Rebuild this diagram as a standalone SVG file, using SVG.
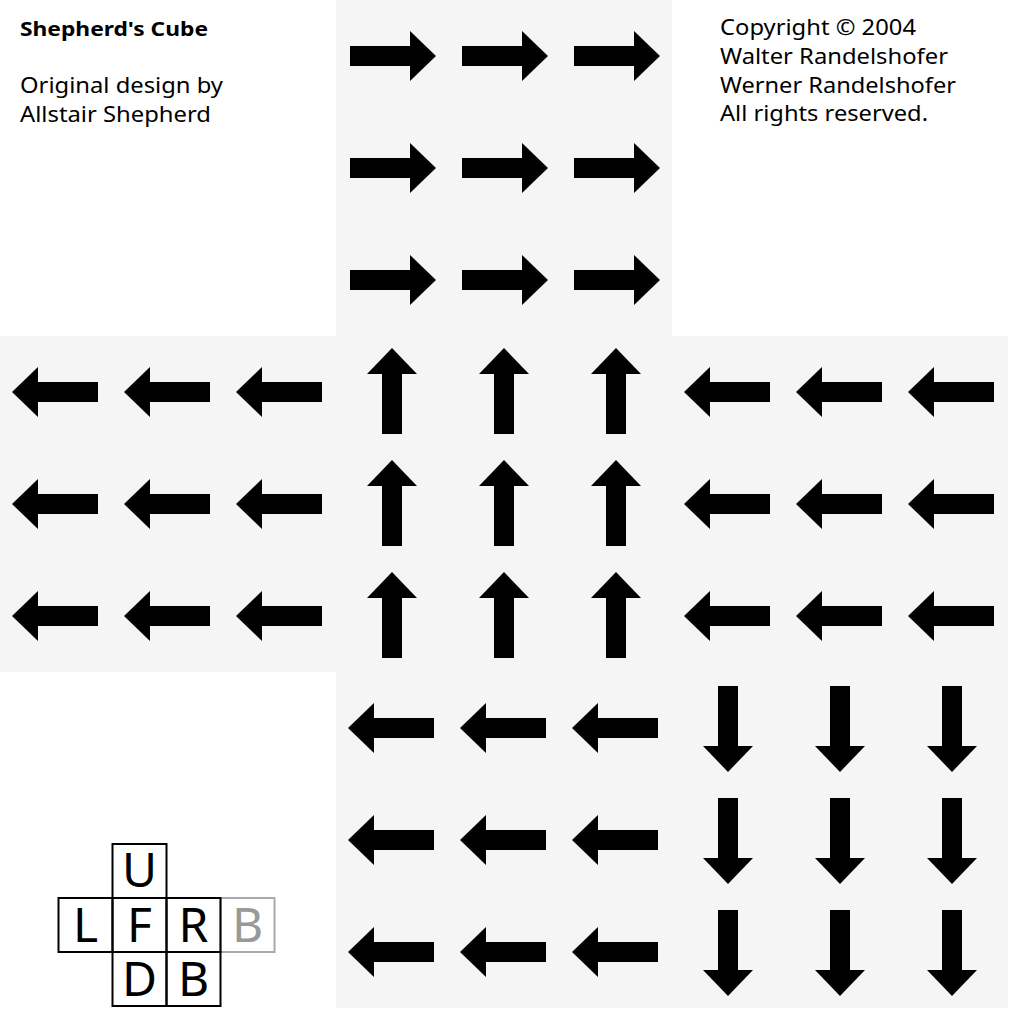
<svg xmlns="http://www.w3.org/2000/svg" xmlns:xlink="http://www.w3.org/1999/xlink" width="1024" height="1024" viewBox="0 0 1024 1024">
<style>
.face{fill:#f5f5f5}
.t{font-family:"Noto Sans","Open Sans","Liberation Sans",sans-serif;font-size:22px;fill:#000}
.tb{font-family:"Noto Sans","Open Sans","Liberation Sans",sans-serif;font-size:20px;font-weight:bold;fill:#000}
.box{fill:none;stroke:#000;stroke-width:2}
.boxg{fill:none;stroke:#aaa;stroke-width:2}
.lt{font-family:"Noto Sans","Open Sans","Liberation Sans",sans-serif;font-size:48px;text-anchor:middle;fill:#000}
</style>
<defs>
<path id="ar" d="M-42,-10 H18 V-25 L44,0 L18,25 V10 H-42 Z" fill="#000"/>
</defs>
<rect width="1024" height="1024" fill="#fff"/>
<g id="faceU">
<rect class="face" x="336" y="0" width="336" height="336"/>
<use xlink:href="#ar" transform="translate(392,56)"/><use xlink:href="#ar" transform="translate(504,56)"/><use xlink:href="#ar" transform="translate(616,56)"/>
<use xlink:href="#ar" transform="translate(392,168)"/><use xlink:href="#ar" transform="translate(504,168)"/><use xlink:href="#ar" transform="translate(616,168)"/>
<use xlink:href="#ar" transform="translate(392,280)"/><use xlink:href="#ar" transform="translate(504,280)"/><use xlink:href="#ar" transform="translate(616,280)"/>
</g>
<g id="faceL">
<rect class="face" x="0" y="336" width="336" height="336"/>
<use xlink:href="#ar" transform="translate(56,392) rotate(180)"/><use xlink:href="#ar" transform="translate(168,392) rotate(180)"/><use xlink:href="#ar" transform="translate(280,392) rotate(180)"/>
<use xlink:href="#ar" transform="translate(56,504) rotate(180)"/><use xlink:href="#ar" transform="translate(168,504) rotate(180)"/><use xlink:href="#ar" transform="translate(280,504) rotate(180)"/>
<use xlink:href="#ar" transform="translate(56,616) rotate(180)"/><use xlink:href="#ar" transform="translate(168,616) rotate(180)"/><use xlink:href="#ar" transform="translate(280,616) rotate(180)"/>
</g>
<g id="faceF">
<rect class="face" x="336" y="336" width="336" height="336"/>
<use xlink:href="#ar" transform="translate(392,392) rotate(-90)"/><use xlink:href="#ar" transform="translate(504,392) rotate(-90)"/><use xlink:href="#ar" transform="translate(616,392) rotate(-90)"/>
<use xlink:href="#ar" transform="translate(392,504) rotate(-90)"/><use xlink:href="#ar" transform="translate(504,504) rotate(-90)"/><use xlink:href="#ar" transform="translate(616,504) rotate(-90)"/>
<use xlink:href="#ar" transform="translate(392,616) rotate(-90)"/><use xlink:href="#ar" transform="translate(504,616) rotate(-90)"/><use xlink:href="#ar" transform="translate(616,616) rotate(-90)"/>
</g>
<g id="faceR">
<rect class="face" x="672" y="336" width="336" height="336"/>
<use xlink:href="#ar" transform="translate(728,392) rotate(180)"/><use xlink:href="#ar" transform="translate(840,392) rotate(180)"/><use xlink:href="#ar" transform="translate(952,392) rotate(180)"/>
<use xlink:href="#ar" transform="translate(728,504) rotate(180)"/><use xlink:href="#ar" transform="translate(840,504) rotate(180)"/><use xlink:href="#ar" transform="translate(952,504) rotate(180)"/>
<use xlink:href="#ar" transform="translate(728,616) rotate(180)"/><use xlink:href="#ar" transform="translate(840,616) rotate(180)"/><use xlink:href="#ar" transform="translate(952,616) rotate(180)"/>
</g>
<g id="faceD">
<rect class="face" x="336" y="672" width="336" height="336"/>
<use xlink:href="#ar" transform="translate(392,728) rotate(180)"/><use xlink:href="#ar" transform="translate(504,728) rotate(180)"/><use xlink:href="#ar" transform="translate(616,728) rotate(180)"/>
<use xlink:href="#ar" transform="translate(392,840) rotate(180)"/><use xlink:href="#ar" transform="translate(504,840) rotate(180)"/><use xlink:href="#ar" transform="translate(616,840) rotate(180)"/>
<use xlink:href="#ar" transform="translate(392,952) rotate(180)"/><use xlink:href="#ar" transform="translate(504,952) rotate(180)"/><use xlink:href="#ar" transform="translate(616,952) rotate(180)"/>
</g>
<g id="faceB">
<rect class="face" x="672" y="672" width="336" height="336"/>
<use xlink:href="#ar" transform="translate(728,728) rotate(90)"/><use xlink:href="#ar" transform="translate(840,728) rotate(90)"/><use xlink:href="#ar" transform="translate(952,728) rotate(90)"/>
<use xlink:href="#ar" transform="translate(728,840) rotate(90)"/><use xlink:href="#ar" transform="translate(840,840) rotate(90)"/><use xlink:href="#ar" transform="translate(952,840) rotate(90)"/>
<use xlink:href="#ar" transform="translate(728,952) rotate(90)"/><use xlink:href="#ar" transform="translate(840,952) rotate(90)"/><use xlink:href="#ar" transform="translate(952,952) rotate(90)"/>
</g>
<g id="title">
<text class="tb" x="20" y="36" textLength="188" lengthAdjust="spacingAndGlyphs">Shepherd's Cube</text>
<text class="t" x="20" y="93" textLength="203" lengthAdjust="spacingAndGlyphs">Original design by</text>
<text class="t" x="20" y="122" textLength="191" lengthAdjust="spacingAndGlyphs">Allstair Shepherd</text>
</g>
<g id="copyright">
<text class="t" x="720" y="35" textLength="196" lengthAdjust="spacingAndGlyphs">Copyright © 2004</text>
<text class="t" x="720" y="64" textLength="228" lengthAdjust="spacingAndGlyphs">Walter Randelshofer</text>
<text class="t" x="720" y="92.5" textLength="236" lengthAdjust="spacingAndGlyphs">Werner Randelshofer</text>
<text class="t" x="720" y="121" textLength="208" lengthAdjust="spacingAndGlyphs">All rights reserved.</text>
</g>
<g id="legend">
<rect class="boxg" x="220.5" y="898" width="54" height="54"/>
<rect class="box" x="112.5" y="844" width="54" height="54"/>
<rect class="box" x="58.5" y="898" width="54" height="54"/>
<rect class="box" x="112.5" y="898" width="54" height="54"/>
<rect class="box" x="166.5" y="898" width="54" height="54"/>
<rect class="box" x="112.5" y="952" width="54" height="54"/>
<rect class="box" x="166.5" y="952" width="54" height="54"/>
<text class="lt" x="139.5" y="887">U</text>
<text class="lt" x="85.5" y="941.5">L</text>
<text class="lt" x="139.5" y="941.5">F</text>
<text class="lt" x="193.5" y="941.5">R</text>
<text class="lt" x="247.5" y="941.5" style="fill:#999">B</text>
<text class="lt" x="139.5" y="995.5">D</text>
<text class="lt" x="193.5" y="995.5">B</text>
</g>
</svg>
